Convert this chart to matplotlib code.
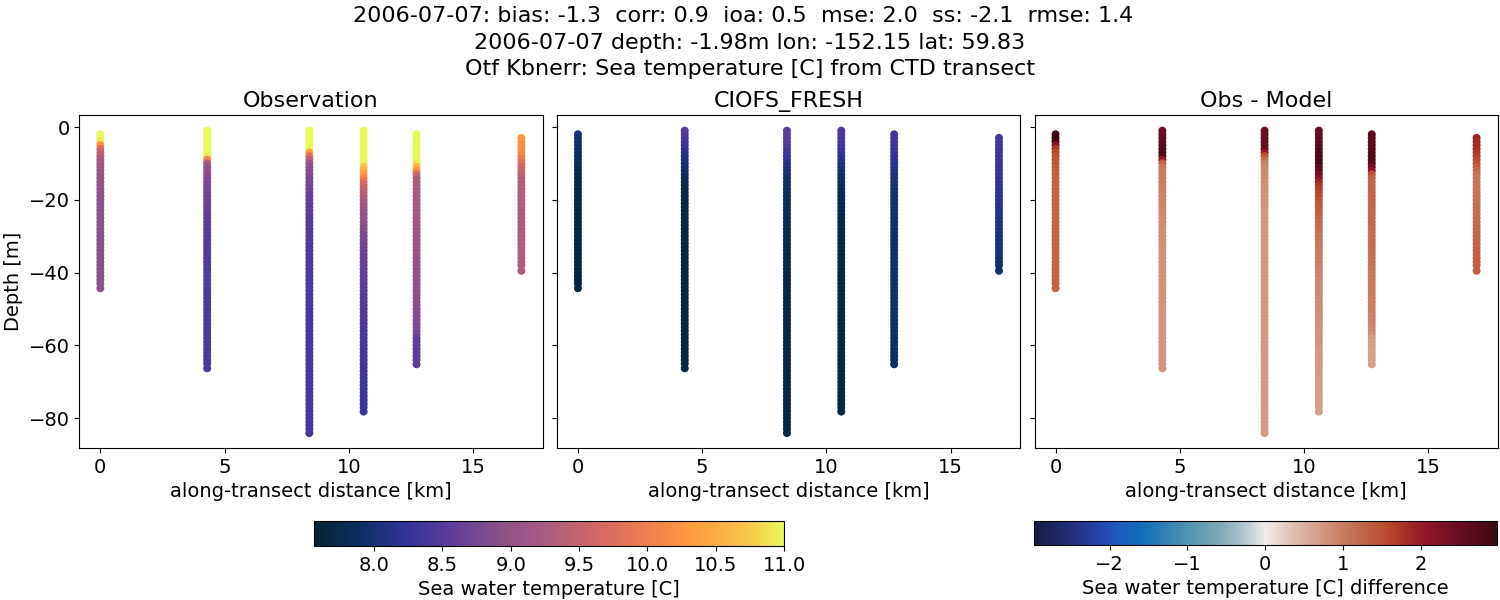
import matplotlib
matplotlib.use("Agg")
import matplotlib.pyplot as plt
import numpy as np
from matplotlib.colors import LinearSegmentedColormap, Normalize
from matplotlib.cm import ScalarMappable

# --- Data -------------------------------------------------------------
distance_km = [0.0, 4.30, 8.415, 10.6, 12.73, 16.95]

depth_1 = [-2,-3,-4,-5,-6,-7,-8,-9,-10,-11,-12,-13,-14,-15,-16,-17,-18,-19,-20,-21,-22,-23,-24,-25,-26,-27,-28,-29,-30,-31,-32,-33,-34,-35,-36,-37,-38,-39,-40,-41,-42,-43,-44.3]
depth_2 = [-1,-2,-3,-4,-5,-6,-7,-8,-9,-10,-11,-12,-13,-14,-15,-16,-17,-18,-19,-20,-21,-22,-23,-24,-25,-26,-27,-28,-29,-30,-31,-32,-33,-34,-35,-36,-37,-38,-39,-40,-41,-42,-43,-44,-45,-46,-47,-48,-49,-50,-51,-52,-53,-54,-55,-56,-57,-58,-59,-60,-61,-62,-63,-64,-65,-66.3]
depth_3 = [-1,-2,-3,-4,-5,-6,-7,-8,-9,-10,-11,-12,-13,-14,-15,-16,-17,-18,-19,-20,-21,-22,-23,-24,-25,-26,-27,-28,-29,-30,-31,-32,-33,-34,-35,-36,-37,-38,-39,-40,-41,-42,-43,-44,-45,-46,-47,-48,-49,-50,-51,-52,-53,-54,-55,-56,-57,-58,-59,-60,-61,-62,-63,-64,-65,-66,-67,-68,-69,-70,-71,-72,-73,-74,-75,-76,-77,-78,-79,-80,-81,-82,-83,-84.1]
depth_4 = [-1,-2,-3,-4,-5,-6,-7,-8,-9,-10,-11,-12,-13,-14,-15,-16,-17,-18,-19,-20,-21,-22,-23,-24,-25,-26,-27,-28,-29,-30,-31,-32,-33,-34,-35,-36,-37,-38,-39,-40,-41,-42,-43,-44,-45,-46,-47,-48,-49,-50,-51,-52,-53,-54,-55,-56,-57,-58,-59,-60,-61,-62,-63,-64,-65,-66,-67,-68,-69,-70,-71,-72,-73,-74,-75,-76,-77,-78.2]
depth_5 = [-2,-3,-4,-5,-6,-7,-8,-9,-10,-11,-12,-13,-14,-15,-16,-17,-18,-19,-20,-21,-22,-23,-24,-25,-26,-27,-28,-29,-30,-31,-32,-33,-34,-35,-36,-37,-38,-39,-40,-41,-42,-43,-44,-45,-46,-47,-48,-49,-50,-51,-52,-53,-54,-55,-56,-57,-58,-59,-60,-61,-62,-63,-64,-65.2]
depth_6 = [-3,-4,-5,-6,-7,-8,-9,-10,-11,-12,-13,-14,-15,-16,-17,-18,-19,-20,-21,-22,-23,-24,-25,-26,-27,-28,-29,-30,-31,-32,-33,-34,-35,-36,-37,-38,-39.5]

obs_1 = [11.0,11.0,10.9,10.2,9.7,9.5,9.35,9.28,9.22,9.16,9.11,9.07,9.04,9.02,9.0,8.99,8.98,8.97,8.96,8.95,8.95,8.94,8.94,8.93,8.93,8.92,8.92,8.92,8.91,8.91,8.91,8.91,8.91,8.91,8.91,8.91,8.91,8.92,8.92,8.92,8.92,8.93,8.93]
obs_2 = [11.0,11.0,11.0,11.0,11.0,11.0,11.0,10.9,10.1,9.3,9.0,8.95,8.9,8.85,8.8,8.77,8.74,8.71,8.69,8.67,8.65,8.63,8.61,8.59,8.57,8.55,8.54,8.53,8.52,8.51,8.5,8.49,8.49,8.48,8.48,8.47,8.47,8.47,8.46,8.46,8.46,8.45,8.45,8.45,8.45,8.44,8.44,8.44,8.44,8.43,8.43,8.43,8.43,8.43,8.43,8.42,8.42,8.42,8.42,8.42,8.42,8.42,8.42,8.42,8.42,8.42]
obs_3 = [11.0,11.0,11.0,11.0,11.0,11.0,10.4,9.8,9.4,9.1,8.95,8.88,8.83,8.79,8.75,8.72,8.69,8.66,8.64,8.62,8.6,8.58,8.56,8.54,8.53,8.52,8.51,8.5,8.49,8.48,8.47,8.47,8.46,8.46,8.45,8.45,8.44,8.44,8.44,8.43,8.43,8.43,8.42,8.42,8.42,8.42,8.41,8.41,8.41,8.41,8.41,8.4,8.4,8.4,8.4,8.4,8.4,8.4,8.39,8.39,8.39,8.39,8.39,8.39,8.39,8.39,8.39,8.38,8.38,8.38,8.38,8.38,8.38,8.38,8.38,8.38,8.38,8.38,8.38,8.38,8.38,8.38,8.38,8.38]
obs_4 = [11.0,11.0,11.0,11.0,11.0,11.0,11.0,11.0,11.0,10.95,10.7,10.55,10.35,10.1,9.8,9.6,9.5,9.42,9.35,9.28,9.2,9.14,9.1,9.05,9.0,8.96,8.92,8.88,8.84,8.79,8.77,8.75,8.73,8.71,8.69,8.67,8.65,8.63,8.61,8.6,8.58,8.57,8.56,8.55,8.54,8.53,8.52,8.51,8.5,8.5,8.49,8.48,8.47,8.46,8.45,8.44,8.43,8.42,8.42,8.41,8.4,8.4,8.39,8.38,8.38,8.37,8.36,8.36,8.35,8.35,8.34,8.34,8.33,8.33,8.33,8.32,8.32,8.32]
obs_5 = [11.0,11.0,11.0,11.0,11.0,11.0,11.0,11.0,10.9,10.6,10.2,9.6,9.35,9.3,9.28,9.27,9.26,9.25,9.24,9.23,9.22,9.21,9.2,9.19,9.18,9.16,9.15,9.13,9.12,9.1,9.09,9.08,9.07,9.06,9.05,9.03,9.01,8.99,8.97,8.96,8.95,8.94,8.93,8.92,8.91,8.9,8.89,8.88,8.87,8.86,8.85,8.84,8.82,8.8,8.77,8.73,8.6,8.58,8.57,8.56,8.56,8.55,8.55,8.55]
obs_6 = [10.3,10.25,10.2,10.15,10.1,10.05,9.9,9.8,9.65,9.52,9.42,9.36,9.33,9.32,9.31,9.3,9.3,9.3,9.3,9.3,9.29,9.29,9.29,9.29,9.29,9.29,9.29,9.29,9.3,9.3,9.3,9.3,9.3,9.3,9.3,9.3,9.3]

model_1 = [8.05,8.02,8.0,7.97,7.93,7.9,7.87,7.84,7.82,7.8,7.78,7.76,7.74,7.72,7.71,7.7,7.7,7.69,7.69,7.68,7.68,7.68,7.67,7.67,7.67,7.67,7.66,7.66,7.66,7.66,7.66,7.66,7.65,7.65,7.65,7.65,7.65,7.65,7.65,7.65,7.65,7.65,7.65]
model_2 = [8.55,8.48,8.4,8.35,8.3,8.25,8.18,8.12,8.06,8.0,7.96,7.92,7.88,7.84,7.8,7.78,7.76,7.75,7.74,7.73,7.72,7.72,7.71,7.71,7.7,7.7,7.7,7.7,7.69,7.69,7.69,7.69,7.69,7.68,7.68,7.68,7.68,7.68,7.68,7.67,7.67,7.67,7.67,7.67,7.67,7.67,7.67,7.67,7.67,7.67,7.67,7.67,7.67,7.67,7.67,7.67,7.67,7.67,7.67,7.67,7.67,7.67,7.67,7.67,7.67,7.67]
model_3 = [8.55,8.55,8.53,8.5,8.48,8.42,8.36,8.3,8.22,8.15,8.08,8.02,7.98,7.95,7.93,7.91,7.89,7.87,7.86,7.85,7.84,7.83,7.82,7.81,7.8,7.79,7.78,7.77,7.76,7.75,7.74,7.74,7.73,7.73,7.72,7.72,7.71,7.71,7.7,7.7,7.7,7.69,7.69,7.69,7.69,7.69,7.69,7.68,7.68,7.68,7.68,7.68,7.68,7.68,7.68,7.68,7.68,7.68,7.68,7.68,7.68,7.68,7.68,7.68,7.68,7.68,7.68,7.68,7.68,7.68,7.68,7.68,7.68,7.68,7.68,7.68,7.68,7.68,7.68,7.68,7.68,7.68,7.68,7.68]
model_4 = [8.45,8.45,8.44,8.42,8.38,8.33,8.26,8.2,8.14,8.08,8.03,7.98,7.94,7.9,7.87,7.84,7.81,7.8,7.79,7.78,7.77,7.76,7.75,7.74,7.73,7.72,7.72,7.71,7.7,7.7,7.7,7.69,7.69,7.69,7.68,7.68,7.68,7.67,7.67,7.67,7.67,7.67,7.67,7.67,7.67,7.67,7.66,7.66,7.66,7.66,7.66,7.66,7.66,7.66,7.66,7.66,7.66,7.66,7.66,7.66,7.66,7.66,7.66,7.66,7.66,7.66,7.66,7.66,7.66,7.66,7.66,7.66,7.66,7.66,7.66,7.66,7.66,7.66]
model_5 = [8.35,8.35,8.35,8.34,8.33,8.31,8.28,8.24,8.2,8.17,8.14,8.11,8.08,8.05,8.03,8.01,8.0,7.99,7.98,7.97,7.97,7.96,7.96,7.96,7.96,7.95,7.95,7.95,7.95,7.95,7.94,7.94,7.94,7.94,7.94,7.93,7.93,7.93,7.93,7.93,7.92,7.92,7.92,7.92,7.91,7.91,7.91,7.91,7.91,7.9,7.9,7.9,7.9,7.9,7.9,7.9,7.9,7.9,7.89,7.89,7.89,7.89,7.89,7.89]
model_6 = [8.35,8.35,8.35,8.35,8.34,8.34,8.33,8.33,8.32,8.31,8.3,8.29,8.27,8.25,8.24,8.22,8.2,8.19,8.17,8.16,8.14,8.13,8.11,8.1,8.09,8.07,8.06,8.05,8.03,8.02,8.01,8.0,7.99,7.98,7.97,7.96,7.95]

depths = [depth_1, depth_2, depth_3, depth_4, depth_5, depth_6]
observed = [obs_1, obs_2, obs_3, obs_4, obs_5, obs_6]
modelled = [model_1, model_2, model_3, model_4, model_5, model_6]

panel_titles = ["Observation", "CIOFS_FRESH", "Obs - Model"]
suptitle_text = ("2006-07-07: bias: -1.3  corr: 0.9  ioa: 0.5  mse: 2.0  ss: -2.1  rmse: 1.4  \n"
                 "2006-07-07 depth: -1.98m lon: -152.15 lat: 59.83\n"
                 "Otf Kbnerr: Sea temperature [C] from CTD transect")
temp_ticks = [8.0, 8.5, 9.0, 9.5, 10.0, 10.5, 11.0]
temp_range = (7.56, 11.0)
diff_ticks = [-2, -1, 0, 1, 2]
diff_range = (-2.97, 2.97)

# --- Colormaps (approximating cmocean thermal / balance) -------------
thermal = LinearSegmentedColormap.from_list("thermal_like", [
    (0.0, "#032333"), (0.1, "#0d3064"), (0.2, "#35329b"), (0.3, "#623f98"),
    (0.4, "#8d5288"), (0.5, "#ab5d80"), (0.56, "#c4646f"), (0.62, "#d86a62"), (0.7, "#ee7c52"),
    (0.8, "#fc9a3f"), (0.9, "#fabc47"), (0.95, "#f5d64d"), (1.0, "#e7fa5a")])
balance = LinearSegmentedColormap.from_list("balance_like", [
    (0.0, "#181c43"), (0.08, "#222f7a"), (0.15, "#2548b4"), (0.18, "#1c5cbb"),
    (0.23, "#0f6cb8"), (0.32, "#4a90b0"), (0.4, "#7da8b6"), (0.46, "#b9cbd0"),
    (0.5, "#f1ecea"), (0.56, "#e0bfb1"), (0.67, "#c87b60"), (0.76, "#b94d2f"),
    (0.81, "#a62b23"), (0.85, "#8f1528"), (0.92, "#6a0d25"), (1.0, "#3c0912")])

# --- Figure -----------------------------------------------------------
W, H = 1500, 600
fig = plt.figure(figsize=(15, 6), dpi=100)

def box(x0, y0, x1, y1):
    return [x0 / W, 1 - y1 / H, (x1 - x0) / W, (y1 - y0) / H]

axes = [fig.add_axes(box(79.3, 115, 542.5, 448)),
        fig.add_axes(box(556.9, 115, 1020.1, 448)),
        fig.add_axes(box(1034.5, 115, 1497.7, 448))]

temp_norm = Normalize(*temp_range)
diff_norm = Normalize(*diff_range)
marker = dict(s=33, linewidths=0)

for x, dep, ob, mo in zip(distance_km, depths, observed, modelled):
    xs = np.full(len(dep), x)
    axes[0].scatter(xs, dep, c=ob, cmap=thermal, norm=temp_norm, **marker)
    axes[1].scatter(xs, dep, c=mo, cmap=thermal, norm=temp_norm, **marker)
    axes[2].scatter(xs, dep, c=np.subtract(ob, mo), cmap=balance, norm=diff_norm, **marker)

for i, (ax, title) in enumerate(zip(axes, panel_titles)):
    ax.set_xlim(-0.847, 17.8)
    ax.set_ylim(-88.2, 3.3)
    ax.set_xticks([0, 5, 10, 15])
    ax.set_yticks([0, -20, -40, -60, -80])
    ax.tick_params(labelsize=14, labelleft=(i == 0))
    ax.set_xlabel("along-transect distance [km]", fontsize=14, labelpad=4)
    ax.set_title(title, fontsize=16, pad=6)
axes[0].set_ylabel("Depth [m]", fontsize=14, labelpad=4)
axes[0].set_yticklabels(["0", "\u221220", "\u221240", "\u221260", "\u221280"])

fig.text(0.5, 1 - 6.5/H, suptitle_text, ha="center", va="top", fontsize=16, linespacing=1.39)

cax1 = fig.add_axes(box(314, 521, 784, 546))
cb1 = fig.colorbar(ScalarMappable(temp_norm, thermal), cax=cax1, orientation="horizontal")
cb1.set_ticks(temp_ticks)
cb1.set_ticklabels(["8.0", "8.5", "9.0", "9.5", "10.0", "10.5", "11.0"])
cb1.ax.tick_params(labelsize=14)
cb1.set_label("Sea water temperature [C]", fontsize=14, labelpad=4)

cax2 = fig.add_axes(box(1034, 521, 1496.6, 545))
cb2 = fig.colorbar(ScalarMappable(diff_norm, balance), cax=cax2, orientation="horizontal")
cb2.set_ticks(diff_ticks)
cb2.ax.tick_params(labelsize=14)
cb2.set_label("Sea water temperature [C] difference", fontsize=14, labelpad=4)

fig.savefig("out.png", dpi=100)
